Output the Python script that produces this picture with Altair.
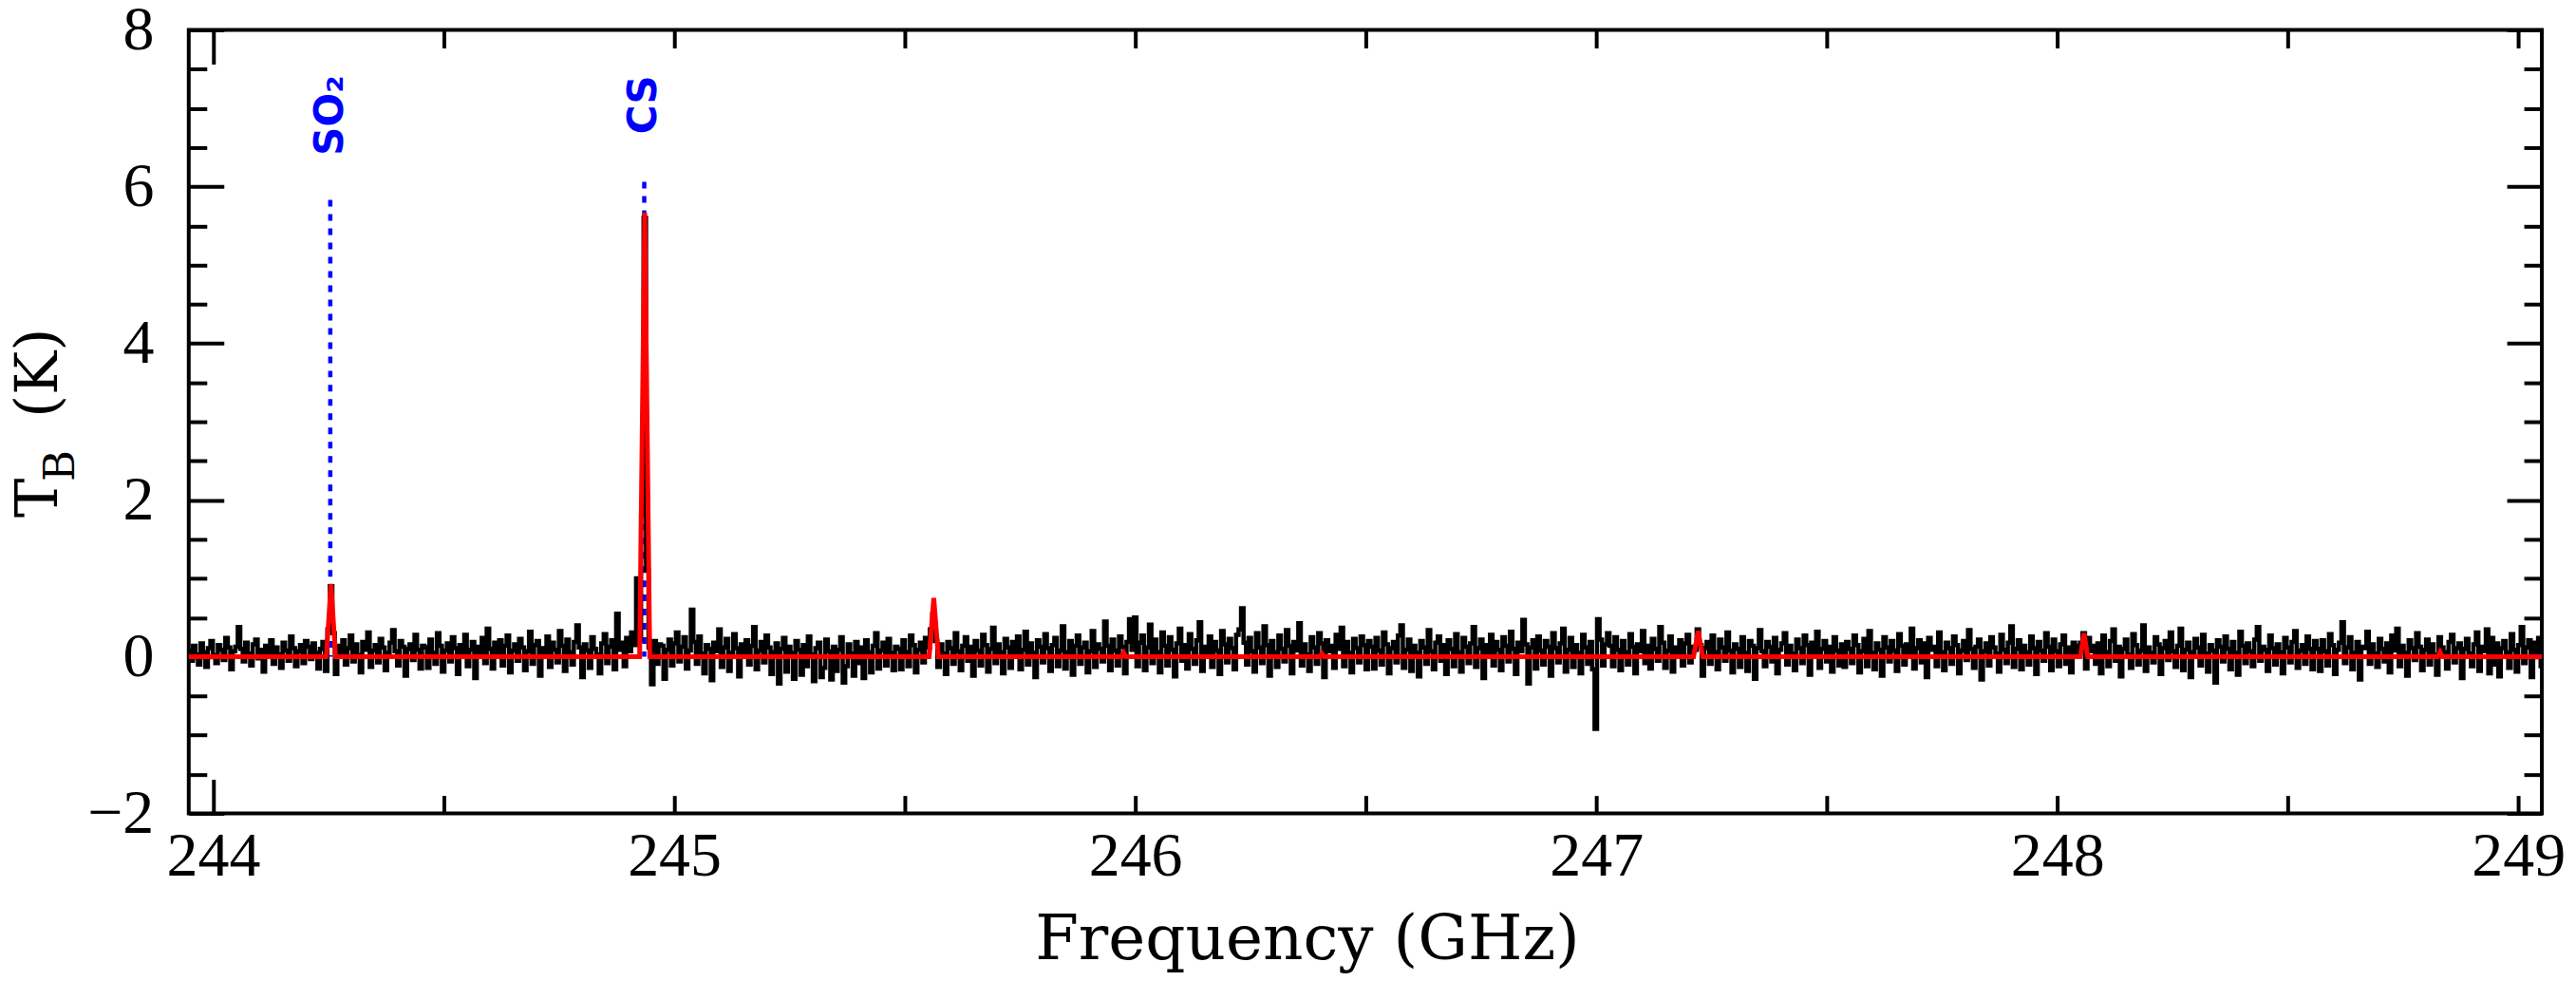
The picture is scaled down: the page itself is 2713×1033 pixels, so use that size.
import altair as alt
import pandas as pd

# ---------------- data ----------------
FREQ_START = 243.948   # GHz, first channel
CHAN_WIDTH = 0.0054    # GHz per channel

spec_a = [0.08, -0.05, 0.14, 0.03, -0.10, 0.17, 0.06, -0.13, 0.11, 0.20,
          0.02, -0.08, 0.15, 0.09, -0.04, 0.24, 0.12, -0.16, 0.07, 0.13,
          0.38, 0.10, -0.06, 0.18, 0.04, -0.11, 0.16, 0.22, -0.02, 0.09,
          -0.19, 0.14, 0.06, 0.21, -0.09, 0.12, 0.03, -0.14, 0.18, 0.08,
          -0.05, 0.26, 0.11, -0.12, 0.07, 0.15, -0.08, 0.20, 0.13, -0.03,
          0.17, 0.05, -0.15, 0.10, 0.19, -0.18, 0.35, 0.90, 0.30, -0.22,
          0.14, 0.06, 0.21, -0.10, 0.11, 0.27, -0.06, 0.16, 0.02, -0.20,
          0.19, 0.09, 0.31, -0.13, 0.08, 0.15, -0.07, 0.23, 0.12, -0.17,
          0.05, 0.18, 0.34, 0.07, -0.11, 0.20, 0.13, -0.24, 0.10, 0.16,
          -0.04, 0.28, 0.09, -0.15, 0.14]
spec_b = [0.12, -0.14, 0.22, 0.05, -0.09, 0.30, 0.14, -0.19, 0.08, 0.17,
          -0.06, 0.25, 0.11, -0.22, 0.15, 0.03, 0.28, -0.12, 0.09, 0.19,
          -0.27, 0.13, 0.06, 0.24, -0.08, 0.36, 0.10, -0.15, 0.18, 0.04,
          0.21, -0.11, 0.14, 0.27, -0.20, 0.08, 0.16, -0.05, 0.23, 0.12,
          -0.17, 0.07, 0.32, -0.09, 0.15, 0.20, -0.24, 0.11, 0.05, 0.26,
          -0.13, 0.18, 0.09, -0.07, 0.33, 0.14, -0.18, 0.22, 0.06, -0.10,
          0.19, 0.40, 0.12, -0.26, 0.16, 0.08, -0.14, 0.25, 0.10, 0.03,
          -0.21, 0.17, 0.29, -0.08, 0.13, 0.21, -0.16, 0.55, 0.09, 0.18,
          -0.12, 0.24, 0.07, 0.31, 0.15, 1.00, 0.22, 1.80, 5.60, 1.10,
          0.12, -0.35, 0.20, -0.09, 0.16]
spec_c = [0.14, -0.28, 0.09, 0.22, -0.11, 0.17, 0.31, -0.06, 0.13, 0.25,
          -0.15, 0.08, 0.60, 0.19, -0.09, 0.26, 0.04, -0.21, 0.15, 0.10,
          -0.30, 0.18, 0.07, 0.35, -0.13, 0.12, 0.23, -0.18, 0.05, 0.29,
          0.11, -0.25, 0.16, 0.02, 0.21, -0.10, 0.14, 0.38, -0.16, 0.08,
          0.19, -0.07, 0.27, 0.12, -0.22, 0.06, 0.17, -0.34, 0.10, 0.24,
          -0.19, 0.13, 0.05, -0.28, 0.20, 0.09, -0.23, 0.15, -0.12, 0.26,
          0.03, -0.31, 0.11, 0.18, -0.26, -0.14, 0.22, 0.07, -0.29, 0.13,
          -0.18, 0.09, 0.25, -0.33, -0.12, 0.16, 0.04, -0.24, 0.19, -0.08,
          0.12, -0.27, 0.21, 0.06, -0.20, 0.14, 0.30, -0.15, 0.08, 0.18,
          -0.11, 0.23, 0.05, -0.17, 0.13]
spec_d = [0.10, -0.16, 0.21, 0.06, -0.12, 0.27, 0.15, -0.20, 0.09, 0.18,
          -0.07, 0.24, 0.12, 0.35, 0.55, 0.20, -0.13, 0.16, 0.04, -0.22,
          0.19, 0.11, -0.09, 0.30, 0.07, -0.17, 0.14, 0.25, -0.05, 0.13,
          -0.24, 0.20, 0.08, -0.11, 0.28, 0.15, -0.19, 0.10, 0.37, -0.08,
          0.16, 0.06, -0.21, 0.23, 0.12, -0.14, 0.19, 0.03, 0.26, -0.16,
          0.09, 0.32, -0.10, 0.17, 0.05, -0.26, 0.21, 0.13, -0.07, 0.29,
          0.11, -0.18, 0.15, 0.24, -0.12, 0.08, 0.39, -0.15, 0.06, 0.20,
          -0.23, 0.14, 0.27, -0.09, 0.12, 0.18, -0.20, 0.07, 0.33, -0.13,
          0.16, 0.10, -0.06, 0.45, 0.14, -0.17, 0.22, 0.08, -0.11, 0.26,
          0.13, -0.21, 0.19, 0.48, 0.09]
spec_e = [0.50, -0.12, 0.18, 0.27, -0.17, 0.12, 0.41, -0.08, 0.22, 0.06,
          -0.20, 0.31, 0.14, -0.11, 0.25, 0.09, -0.25, 0.17, 0.36, -0.05,
          0.15, -0.15, 0.29, 0.10, -0.09, 0.21, 0.44, -0.18, 0.13, 0.05,
          0.26, -0.13, 0.19, 0.08, -0.22, 0.33, 0.16, -0.07, 0.23, 0.11,
          -0.16, 0.28, 0.35, 0.62, 0.18, -0.10, 0.24, 0.07, -0.19, 0.30,
          0.12, -0.08, 0.39, 0.15, -0.24, 0.20, 0.06, -0.13, 0.27, 0.10,
          -0.06, 0.34, 0.14, -0.21, 0.19, 0.08, 0.43, -0.11, 0.16, 0.03,
          -0.18, 0.25, 0.12, -0.09, 0.30, 0.17, -0.26, 0.21, 0.07, 0.14,
          -0.14, 0.28, 0.10, 0.37, -0.12, 0.19, 0.05, -0.20, 0.23, 0.11,
          -0.07, 0.26, 0.15, -0.16, 0.20]
spec_f = [0.13, -0.15, 0.24, 0.08, -0.10, 0.31, 0.16, -0.21, 0.11, 0.19,
          -0.07, 0.27, 0.40, -0.14, 0.09, 0.22, -0.18, 0.14, 0.05, -0.25,
          0.20, 0.12, -0.09, 0.34, 0.07, -0.16, 0.18, 0.26, -0.05, 0.15,
          -0.22, 0.21, 0.10, -0.12, 0.29, 0.06, -0.19, 0.24, 0.13, -0.08,
          0.17, 0.38, -0.13, 0.11, 0.22, -0.27, 0.15, 0.04, 0.28, -0.11,
          0.19, 0.09, -0.17, 0.25, 0.14, -0.06, 0.32, 0.10, -0.22, 0.18,
          0.07, 0.47, 0.16, -0.34, 0.12, 0.21, -0.15, 0.26, 0.08, -0.10,
          0.20, 0.13, -0.24, 0.30, 0.11, -0.07, 0.17, 0.36, -0.19, 0.09,
          0.24, -0.13, 0.15, 0.05, -0.21, 0.28, 0.12, -0.09, 0.19, -0.16,
          -0.92, 0.48, 0.22, -0.11, 0.16]
spec_g = [0.30, 0.14, -0.12, 0.25, 0.09, -0.17, 0.20, 0.06, -0.10, 0.29,
          0.13, -0.21, 0.16, 0.07, 0.33, -0.08, 0.14, -0.15, 0.23, 0.10,
          -0.05, 0.38, 0.18, -0.14, 0.08, 0.26, -0.19, 0.12, 0.04, 0.21,
          -0.11, 0.17, 0.28, -0.07, 0.13, 0.09, 0.35, 0.15, -0.24, 0.11,
          0.19, -0.09, 0.27, 0.06, -0.16, 0.22, 0.12, -0.05, 0.31, 0.08,
          -0.20, 0.16, 0.10, -0.13, 0.25, 0.05, -0.18, 0.20, 0.14, -0.28,
          0.11, 0.34, 0.07, -0.12, 0.19, 0.13, -0.06, 0.24, -0.21, 0.09,
          0.17, 0.30, -0.10, 0.14, 0.04, -0.17, 0.22, 0.11, -0.08, 0.27,
          0.15, -0.23, 0.18, 0.06, 0.32, -0.14, 0.10, 0.20, -0.06, 0.13,
          -0.19, 0.25, 0.08, -0.11, 0.16]
spec_h = [-0.13, 0.19, 0.10, -0.08, 0.27, 0.15, -0.20, 0.07, 0.23, -0.12,
          0.33, 0.05, -0.16, 0.17, 0.09, -0.24, 0.25, 0.12, -0.06, 0.20,
          0.08, -0.18, 0.29, 0.14, -0.10, 0.16, 0.03, 0.36, -0.15, 0.11,
          0.21, -0.07, 0.17, -0.26, 0.24, 0.09, 0.13, -0.12, 0.31, 0.06,
          -0.17, 0.18, 0.11, -0.09, 0.26, 0.15, -0.21, 0.08, 0.20, -0.04,
          0.34, 0.10, -0.14, 0.13, 0.22, -0.29, 0.07, 0.17, -0.11, 0.25,
          0.12, 0.04, -0.19, 0.28, 0.09, -0.08, 0.18, 0.39, -0.13, 0.10,
          0.21, -0.16, 0.14, 0.06, -0.10, 0.26, 0.11, -0.22, 0.19, 0.08,
          -0.05, 0.30, 0.13, -0.17, 0.22, 0.07, -0.12, 0.16, 0.27, -0.09,
          0.12, -0.20, 0.18, 0.05, 0.14]
spec_i = [0.18, 0.30, -0.15, 0.24, 0.07, 0.14, -0.09, 0.17, -0.21, 0.27,
          0.06, -0.12, 0.20, 0.35, -0.05, 0.13, -0.25, 0.10, 0.22, 0.03,
          -0.14, 0.29, 0.15, -0.10, 0.08, 0.40, -0.18, 0.12, 0.05, -0.07,
          0.25, 0.16, -0.22, 0.11, 0.20, -0.04, 0.31, 0.07, -0.13, 0.14,
          0.36, -0.17, 0.09, 0.18, -0.26, 0.06, 0.23, 0.12, -0.11, 0.28,
          0.04, -0.19, 0.15, 0.08, -0.33, 0.21, 0.13, -0.06, 0.26, 0.10,
          -0.16, 0.19, 0.05, -0.23, 0.32, 0.14, -0.08, 0.17, 0.07, -0.12,
          0.22, 0.38, -0.05, 0.13, 0.09, -0.18, 0.27, 0.11, -0.10, 0.16,
          0.06, -0.21, 0.24, 0.12, -0.07, 0.19, 0.33, -0.14, 0.08, 0.15,
          -0.09, 0.26, 0.10, -0.16, 0.20]
spec_j = [0.10, -0.18, 0.21, 0.07, -0.11, 0.29, 0.15, -0.22, 0.09, 0.18,
          0.44, -0.08, 0.12, 0.25, -0.16, 0.05, 0.19, -0.29, 0.13, 0.11,
          0.32, -0.09, 0.16, 0.04, -0.13, 0.23, 0.10, -0.06, 0.17, -0.20,
          0.27, 0.08, 0.36, -0.12, 0.14, 0.05, -0.24, 0.21, 0.11, -0.04,
          0.30, 0.13, -0.17, 0.09, 0.22, -0.10, 0.16, 0.03, -0.23, 0.25,
          0.12, 0.06, -0.15, 0.19, 0.28, -0.07, 0.11, 0.17, -0.27, 0.10,
          0.23, 0.04, -0.12, 0.16, 0.31, -0.18, 0.13, 0.07, 0.35, -0.21,
          0.24, -0.10, 0.17, -0.25, 0.11, 0.20, 0.06, -0.14, 0.29, 0.09,
          -0.19, 0.15, 0.38, -0.08, 0.12, 0.21, -0.26, 0.18, 0.05, 0.24,
          -0.12]

# model spectrum (red)
model_freq = [243.947, 244.2455, 244.2555, 244.2655, 244.925, 244.936, 244.947,
              245.553, 245.563, 245.573, 245.970, 245.975, 245.980,
              246.400, 246.405, 246.410, 247.211, 247.221, 247.231,
              248.050, 248.058, 248.066, 248.825, 248.830, 248.835, 249.051]
model_tb = [0, 0, 0.93, 0, 0, 5.67, 0, 0, 0.75, 0, 0, 0.05, 0,
            0, 0.04, 0, 0, 0.33, 0, 0, 0.30, 0, 0, 0.06, 0, 0]

# identified lines
line_freq = [244.254, 244.935]
line_top = [5.83, 6.06]
line_label = ["SO\u2082", "CS"]

x_tick_labels = [244, 245, 246, 247, 248, 249]
x_minor_ticks = [244, 244.5, 245, 245.5, 246, 246.5, 247, 247.5, 248, 248.5, 249]
y_tick_labels = [-2, 0, 2, 4, 6, 8]
y_minor_ticks = [-2 + 0.5 * k for k in range(21)]

# ---------------- frames ----------------
tb_obs = spec_a + spec_b + spec_c + spec_d + spec_e + spec_f + spec_g + spec_h + spec_i + spec_j
freq_obs = [round(FREQ_START + CHAN_WIDTH * k, 5) for k in range(len(tb_obs))]
obs_df = pd.DataFrame({"freq": freq_obs, "tb": tb_obs})
model_df = pd.DataFrame({"freq": model_freq, "tb": model_tb})
lines_df = pd.DataFrame({"freq": line_freq, "top": line_top, "label": line_label})
one_df = pd.DataFrame({"k": [0]})

W, H = 2481, 826
XDOM = [243.947, 249.051]
YDOM = [-2, 8]
xs = alt.Scale(domain=XDOM, nice=False, zero=False)
ys = alt.Scale(domain=YDOM, nice=False, zero=False)

major_x = {"condition": {"test": "datum.value === 244", "value": 36}, "value": 19}
major_y = {"condition": {"test": "datum.value % 2 === 0", "value": 37}, "value": 19}

# axes carrying the labels (bottom / left)
x_label_axis = alt.Axis(orient="bottom", values=x_tick_labels, format="d", ticks=False, tickSize=0,
                        domain=False, grid=False, labelFont="Liberation Serif", labelFontSize=66,
                        labelColor="black", labelPadding=13, labelFlush=False, labelOverlap=False,
                        title="Frequency (GHz)", titleFont="DejaVu Serif", titleFontSize=66,
                        titleFontWeight="normal", titleColor="black", titleX=1179, titleY=153,
                        titleAlign="center", titleBaseline="alphabetic", titleAngle=0)
y_label_axis = alt.Axis(orient="left", values=y_tick_labels, ticks=False, tickSize=0,
                        domain=False, grid=False, labelFont="Liberation Serif", labelFontSize=66,
                        labelColor="black", labelPadding=37, labelFlush=False, labelOverlap=False,
                        title=None)
# inward ticks: axes displaced to the opposite edge of the frame
x_ticks_at_bottom = alt.Axis(orient="top", offset=-H, values=x_minor_ticks, labels=False, domain=False,
                             grid=False, title=None, tickColor="black", tickWidth=4, tickSize=major_x)
x_ticks_at_top = alt.Axis(orient="bottom", offset=-H, values=x_minor_ticks, labels=False, domain=False,
                          grid=False, title=None, tickColor="black", tickWidth=4, tickSize=major_x)
y_ticks_at_left = alt.Axis(orient="right", offset=-W, values=y_minor_ticks, labels=False, domain=False,
                           grid=False, title=None, tickColor="black", tickWidth=4, tickSize=major_y)
y_ticks_at_right = alt.Axis(orient="left", offset=-W, values=y_minor_ticks, labels=False, domain=False,
                            grid=False, title=None, tickColor="black", tickWidth=4, tickSize=major_y)

rules = alt.Chart(lines_df).mark_rule(color="#0000ff", strokeWidth=4.5, strokeDash=[7, 8], clip=True).encode(
    x=alt.X("freq:Q", scale=xs, axis=x_ticks_at_top),
    y=alt.Y("top:Q", scale=ys, axis=y_ticks_at_right),
    y2=alt.datum(0),
)

observed = alt.Chart(obs_df).mark_line(color="black", strokeWidth=4.5, interpolate="step", clip=True).encode(
    x=alt.X("freq:Q", scale=xs, axis=x_label_axis),
    y=alt.Y("tb:Q", scale=ys, axis=y_label_axis),
)

model = alt.Chart(model_df).mark_line(color="#ff0000", strokeWidth=5, clip=True).encode(
    x=alt.X("freq:Q", scale=xs, axis=x_ticks_at_bottom),
    y=alt.Y("tb:Q", scale=ys, axis=y_ticks_at_left),
)

labels = alt.Chart(lines_df).mark_text(angle=270, align="right", baseline="middle", font="DejaVu Sans",
                                      fontWeight="bold", fontSize=42, color="#0000ff").encode(
    x=alt.X("freq:Q", scale=xs, axis=None),
    y=alt.YDatum(7.42, scale=ys, axis=None),
    text="label:N",
)

ytitle_T = alt.Chart(one_df).mark_text(text="T", angle=270, align="left", baseline="alphabetic",
                                      font="DejaVu Serif", fontSize=62, color="black").encode(
    x=alt.value(-139), y=alt.value(514))
ytitle_B = alt.Chart(one_df).mark_text(text="B", angle=270, align="left", baseline="alphabetic",
                                      font="DejaVu Serif", fontSize=45, color="black").encode(
    x=alt.value(-121), y=alt.value(476))
ytitle_K = alt.Chart(one_df).mark_text(text="(K)", angle=270, align="left", baseline="alphabetic",
                                      font="DejaVu Serif", fontSize=62, color="black").encode(
    x=alt.value(-139), y=alt.value(409))

chart = alt.layer(rules, observed, model, labels, ytitle_T, ytitle_B, ytitle_K).resolve_axis(
    x="independent", y="independent"
).properties(
    width=W, height=H,
    autosize=alt.AutoSizeParams(type="none"),
    padding={"left": 191, "top": 23, "right": 28, "bottom": 168},
    background="white",
).configure_view(stroke="black", strokeWidth=4)

chart.save("out.html", embed_options={"renderer": "svg", "actions": False})
